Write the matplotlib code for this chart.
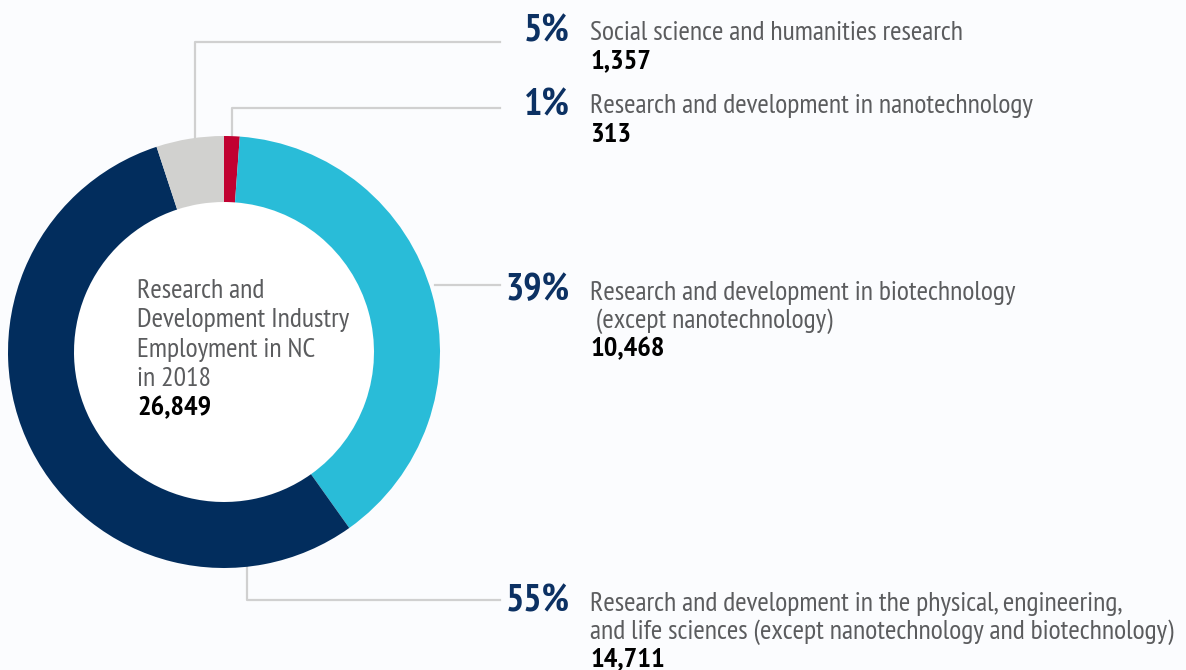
import matplotlib
matplotlib.use("Agg")
import matplotlib.pyplot as plt
from matplotlib import font_manager

# data (clockwise from 12 o'clock)
categories = [
    ["Research and development in nanotechnology"],
    ["Research and development in biotechnology", " (except nanotechnology)"],
    ["Research and development in the physical, engineering,",
     "and life sciences (except nanotechnology and biotechnology)"],
    ["Social science and humanities research"],
]
employment = [313, 10468, 14711, 1357]
pct_labels = ["1%", "39%", "55%", "5%"]
value_labels = ["313", "10,468", "14,711", "1,357"]
total_label = "26,849"
center_title = ["Research and", "Development Industry", "Employment in NC", "in 2018"]

colors = ["#c10131", "#29bcd8", "#022d5d", "#d1d1cf"]
navy = "#0c3163"
gray_txt = "#5b5c5e"
line_col = "#d0d0d0"

# condensed face if there is one, else plain Roboto a bit smaller
avail = {f.name for f in font_manager.fontManager.ttflist}
if "PT Sans Narrow" in avail:
    fam, k = "PT Sans Narrow", 1.0
else:
    fam, k = "Roboto", 0.82
plt.rcParams["font.family"] = [fam, "DejaVu Sans"]

W, H = 1186, 670
fig = plt.figure(figsize=(W / 100, H / 100), dpi=100)
fig.patch.set_facecolor("#fbfcfe")
ax = fig.add_axes([0, 0, 1, 1])
ax.set_facecolor("#fbfcfe")


def py(y):
    # pixel row -> data y
    return H - y


cx, cy, r_out, r_in = 224, 352, 216, 150
ax.pie(employment, colors=colors, startangle=90, counterclock=False,
       center=(cx, py(cy)), radius=r_out,
       wedgeprops=dict(width=r_out - r_in, linewidth=0))
ax.add_patch(plt.Circle((cx, py(cy)), r_in, color="white", zorder=0.5))

ax.set_xlim(0, W)
ax.set_ylim(0, H)
ax.set_aspect("equal")
ax.axis("off")

# leader lines
lw = 1.6
ax.plot([195, 195, 500], [py(142), py(42), py(42)], color=line_col, lw=lw, zorder=0)
ax.plot([232, 232, 500], [py(138), py(108), py(108)], color=line_col, lw=lw, zorder=0)
ax.plot([435, 500], [py(285), py(285)], color=line_col, lw=lw, zorder=0)
ax.plot([247, 247, 500], [py(566), py(600), py(600)], color=line_col, lw=lw, zorder=0)

fs_pct = 27.5 * k
fs_lab = 20 * k
fs_val = 20.5 * k
step = 28

# side labels: (pct baseline, first label baseline, value baseline)
rows = {
    3: (41, 40, 68),
    0: (115, 113, 142),
    1: (300, 300, 356),
    2: (611, 611, 666),
}
for i, (yp, yl, yv) in rows.items():
    ax.text(570, py(yp), pct_labels[i], ha="right", va="baseline",
            fontsize=fs_pct, fontweight="bold", color=navy)
    for j, line in enumerate(categories[i]):
        ax.text(590, py(yl + j * step), line, ha="left", va="baseline",
                fontsize=fs_lab, color=gray_txt)
    ax.text(590, py(yv), value_labels[i], ha="left", va="baseline",
            fontsize=fs_val, fontweight="bold", color="black")

# centre text
for j, line in enumerate(center_title):
    ax.text(137, py(298 + j * 29.3), line, ha="left", va="baseline",
            fontsize=fs_lab, color=gray_txt)
ax.text(137, py(415), total_label, ha="left", va="baseline",
        fontsize=fs_val, fontweight="bold", color="black")

fig.savefig("out.png", dpi=100, facecolor=fig.get_facecolor())
